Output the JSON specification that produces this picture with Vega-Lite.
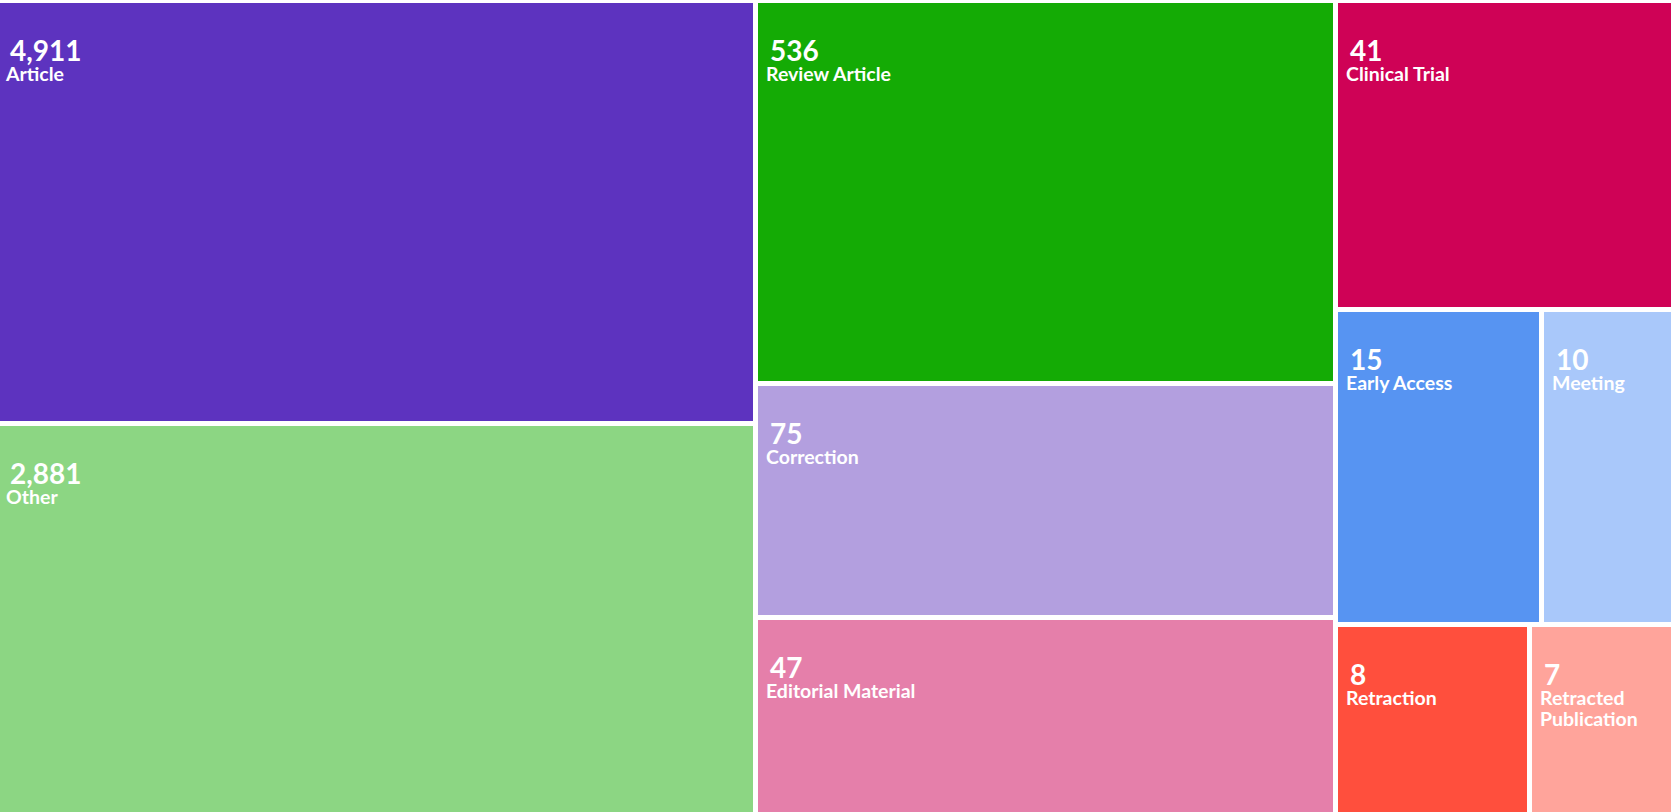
{
  "$schema": "https://vega.github.io/schema/vega-lite/v6.json",
  "padding": {"top": 3, "left": 0, "right": 0, "bottom": 0},
  "background": "white",
  "spacing": 5,
  "config": {
    "view": {"stroke": null},
    "concat": {"spacing": 5}
  },
  "data": {
    "values": [
      {"type": "Article", "count": 4911},
      {"type": "Other", "count": 2881},
      {"type": "Review Article", "count": 536},
      {"type": "Correction", "count": 75},
      {"type": "Editorial Material", "count": 47},
      {"type": "Clinical Trial", "count": 41},
      {"type": "Early Access", "count": 15},
      {"type": "Meeting", "count": 10},
      {"type": "Retraction", "count": 8},
      {"type": "Retracted Publication", "count": 7}
    ]
  },
  "hconcat": [
    {
      "vconcat": [
        {
          "width": 753, "height": 418,
          "transform": [{"filter": "datum.type === 'Article'"}],
          "layer": [
            {"mark": "rect", "encoding": {"color": {"field": "type", "legend": null, "scale": {"domain": ["Article", "Other", "Review Article", "Correction", "Editorial Material", "Clinical Trial", "Early Access", "Meeting", "Retraction", "Retracted Publication"], "range": ["#5d33bf", "#8cd683", "#14ab05", "#b39fdf", "#e57faa", "#cf0256", "#5794f2", "#a9c8fa", "#ff4f3d", "#ffa49b"]}}}},
            {"mark": {"type": "text", "align": "left", "baseline": "alphabetic", "x": 10, "y": 58, "font": "Lato", "fontSize": 28, "fontWeight": "bold", "fill": "white"}, "encoding": {"text": {"field": "count", "format": ","}}},
            {"mark": {"type": "text", "align": "left", "baseline": "alphabetic", "x": 6, "y": 78, "font": "Lato", "fontSize": 19.5, "fontWeight": "bold", "fill": "white"}, "encoding": {"text": {"field": "type"}}}
          ]
        },
        {
          "width": 753, "height": 386,
          "transform": [{"filter": "datum.type === 'Other'"}],
          "layer": [
            {"mark": "rect", "encoding": {"color": {"field": "type", "legend": null, "scale": {"domain": ["Article", "Other", "Review Article", "Correction", "Editorial Material", "Clinical Trial", "Early Access", "Meeting", "Retraction", "Retracted Publication"], "range": ["#5d33bf", "#8cd683", "#14ab05", "#b39fdf", "#e57faa", "#cf0256", "#5794f2", "#a9c8fa", "#ff4f3d", "#ffa49b"]}}}},
            {"mark": {"type": "text", "align": "left", "baseline": "alphabetic", "x": 10, "y": 58, "font": "Lato", "fontSize": 28, "fontWeight": "bold", "fill": "white"}, "encoding": {"text": {"field": "count", "format": ","}}},
            {"mark": {"type": "text", "align": "left", "baseline": "alphabetic", "x": 6, "y": 78, "font": "Lato", "fontSize": 19.5, "fontWeight": "bold", "fill": "white"}, "encoding": {"text": {"field": "type"}}}
          ]
        }
      ]
    },
    {
      "vconcat": [
        {
          "width": 575, "height": 378,
          "transform": [{"filter": "datum.type === 'Review Article'"}],
          "layer": [
            {"mark": "rect", "encoding": {"color": {"field": "type", "legend": null, "scale": {"domain": ["Article", "Other", "Review Article", "Correction", "Editorial Material", "Clinical Trial", "Early Access", "Meeting", "Retraction", "Retracted Publication"], "range": ["#5d33bf", "#8cd683", "#14ab05", "#b39fdf", "#e57faa", "#cf0256", "#5794f2", "#a9c8fa", "#ff4f3d", "#ffa49b"]}}}},
            {"mark": {"type": "text", "align": "left", "baseline": "alphabetic", "x": 12, "y": 58, "font": "Lato", "fontSize": 28, "fontWeight": "bold", "fill": "white"}, "encoding": {"text": {"field": "count", "format": ","}}},
            {"mark": {"type": "text", "align": "left", "baseline": "alphabetic", "x": 8, "y": 78, "font": "Lato", "fontSize": 19.5, "fontWeight": "bold", "fill": "white"}, "encoding": {"text": {"field": "type"}}}
          ]
        },
        {
          "width": 575, "height": 229,
          "transform": [{"filter": "datum.type === 'Correction'"}],
          "layer": [
            {"mark": "rect", "encoding": {"color": {"field": "type", "legend": null, "scale": {"domain": ["Article", "Other", "Review Article", "Correction", "Editorial Material", "Clinical Trial", "Early Access", "Meeting", "Retraction", "Retracted Publication"], "range": ["#5d33bf", "#8cd683", "#14ab05", "#b39fdf", "#e57faa", "#cf0256", "#5794f2", "#a9c8fa", "#ff4f3d", "#ffa49b"]}}}},
            {"mark": {"type": "text", "align": "left", "baseline": "alphabetic", "x": 12, "y": 58, "font": "Lato", "fontSize": 28, "fontWeight": "bold", "fill": "white"}, "encoding": {"text": {"field": "count", "format": ","}}},
            {"mark": {"type": "text", "align": "left", "baseline": "alphabetic", "x": 8, "y": 78, "font": "Lato", "fontSize": 19.5, "fontWeight": "bold", "fill": "white"}, "encoding": {"text": {"field": "type"}}}
          ]
        },
        {
          "width": 575, "height": 192,
          "transform": [{"filter": "datum.type === 'Editorial Material'"}],
          "layer": [
            {"mark": "rect", "encoding": {"color": {"field": "type", "legend": null, "scale": {"domain": ["Article", "Other", "Review Article", "Correction", "Editorial Material", "Clinical Trial", "Early Access", "Meeting", "Retraction", "Retracted Publication"], "range": ["#5d33bf", "#8cd683", "#14ab05", "#b39fdf", "#e57faa", "#cf0256", "#5794f2", "#a9c8fa", "#ff4f3d", "#ffa49b"]}}}},
            {"mark": {"type": "text", "align": "left", "baseline": "alphabetic", "x": 12, "y": 58, "font": "Lato", "fontSize": 28, "fontWeight": "bold", "fill": "white"}, "encoding": {"text": {"field": "count", "format": ","}}},
            {"mark": {"type": "text", "align": "left", "baseline": "alphabetic", "x": 8, "y": 78, "font": "Lato", "fontSize": 19.5, "fontWeight": "bold", "fill": "white"}, "encoding": {"text": {"field": "type"}}}
          ]
        }
      ]
    },
    {
      "vconcat": [
        {
          "width": 333, "height": 304,
          "transform": [{"filter": "datum.type === 'Clinical Trial'"}],
          "layer": [
            {"mark": "rect", "encoding": {"color": {"field": "type", "legend": null, "scale": {"domain": ["Article", "Other", "Review Article", "Correction", "Editorial Material", "Clinical Trial", "Early Access", "Meeting", "Retraction", "Retracted Publication"], "range": ["#5d33bf", "#8cd683", "#14ab05", "#b39fdf", "#e57faa", "#cf0256", "#5794f2", "#a9c8fa", "#ff4f3d", "#ffa49b"]}}}},
            {"mark": {"type": "text", "align": "left", "baseline": "alphabetic", "x": 12, "y": 58, "font": "Lato", "fontSize": 28, "fontWeight": "bold", "fill": "white"}, "encoding": {"text": {"field": "count", "format": ","}}},
            {"mark": {"type": "text", "align": "left", "baseline": "alphabetic", "x": 8, "y": 78, "font": "Lato", "fontSize": 19.5, "fontWeight": "bold", "fill": "white"}, "encoding": {"text": {"field": "type"}}}
          ]
        },
        {
          "hconcat": [
            {
              "width": 201, "height": 310,
              "transform": [{"filter": "datum.type === 'Early Access'"}],
              "layer": [
                {"mark": "rect", "encoding": {"color": {"field": "type", "legend": null, "scale": {"domain": ["Article", "Other", "Review Article", "Correction", "Editorial Material", "Clinical Trial", "Early Access", "Meeting", "Retraction", "Retracted Publication"], "range": ["#5d33bf", "#8cd683", "#14ab05", "#b39fdf", "#e57faa", "#cf0256", "#5794f2", "#a9c8fa", "#ff4f3d", "#ffa49b"]}}}},
                {"mark": {"type": "text", "align": "left", "baseline": "alphabetic", "x": 12, "y": 58, "font": "Lato", "fontSize": 28, "fontWeight": "bold", "fill": "white"}, "encoding": {"text": {"field": "count", "format": ","}}},
                {"mark": {"type": "text", "align": "left", "baseline": "alphabetic", "x": 8, "y": 78, "font": "Lato", "fontSize": 19.5, "fontWeight": "bold", "fill": "white"}, "encoding": {"text": {"field": "type"}}}
              ]
            },
            {
              "width": 127, "height": 310,
              "transform": [{"filter": "datum.type === 'Meeting'"}],
              "layer": [
                {"mark": "rect", "encoding": {"color": {"field": "type", "legend": null, "scale": {"domain": ["Article", "Other", "Review Article", "Correction", "Editorial Material", "Clinical Trial", "Early Access", "Meeting", "Retraction", "Retracted Publication"], "range": ["#5d33bf", "#8cd683", "#14ab05", "#b39fdf", "#e57faa", "#cf0256", "#5794f2", "#a9c8fa", "#ff4f3d", "#ffa49b"]}}}},
                {"mark": {"type": "text", "align": "left", "baseline": "alphabetic", "x": 12, "y": 58, "font": "Lato", "fontSize": 28, "fontWeight": "bold", "fill": "white"}, "encoding": {"text": {"field": "count", "format": ","}}},
                {"mark": {"type": "text", "align": "left", "baseline": "alphabetic", "x": 8, "y": 78, "font": "Lato", "fontSize": 19.5, "fontWeight": "bold", "fill": "white"}, "encoding": {"text": {"field": "type"}}}
              ]
            }
          ]
        },
        {
          "hconcat": [
            {
              "width": 189, "height": 185,
              "transform": [{"filter": "datum.type === 'Retraction'"}],
              "layer": [
                {"mark": "rect", "encoding": {"color": {"field": "type", "legend": null, "scale": {"domain": ["Article", "Other", "Review Article", "Correction", "Editorial Material", "Clinical Trial", "Early Access", "Meeting", "Retraction", "Retracted Publication"], "range": ["#5d33bf", "#8cd683", "#14ab05", "#b39fdf", "#e57faa", "#cf0256", "#5794f2", "#a9c8fa", "#ff4f3d", "#ffa49b"]}}}},
                {"mark": {"type": "text", "align": "left", "baseline": "alphabetic", "x": 12, "y": 58, "font": "Lato", "fontSize": 28, "fontWeight": "bold", "fill": "white"}, "encoding": {"text": {"field": "count", "format": ","}}},
                {"mark": {"type": "text", "align": "left", "baseline": "alphabetic", "x": 8, "y": 78, "font": "Lato", "fontSize": 19.5, "fontWeight": "bold", "fill": "white"}, "encoding": {"text": {"field": "type"}}}
              ]
            },
            {
              "width": 139, "height": 185,
              "transform": [{"filter": "datum.type === 'Retracted Publication'"}],
              "layer": [
                {"mark": "rect", "encoding": {"color": {"field": "type", "legend": null, "scale": {"domain": ["Article", "Other", "Review Article", "Correction", "Editorial Material", "Clinical Trial", "Early Access", "Meeting", "Retraction", "Retracted Publication"], "range": ["#5d33bf", "#8cd683", "#14ab05", "#b39fdf", "#e57faa", "#cf0256", "#5794f2", "#a9c8fa", "#ff4f3d", "#ffa49b"]}}}},
                {"mark": {"type": "text", "align": "left", "baseline": "alphabetic", "x": 12, "y": 58, "font": "Lato", "fontSize": 28, "fontWeight": "bold", "fill": "white"}, "encoding": {"text": {"field": "count", "format": ","}}},
                {"mark": {"type": "text", "align": "left", "baseline": "alphabetic", "x": 8, "y": 78, "lineBreak": " ", "lineHeight": 21, "font": "Lato", "fontSize": 19.5, "fontWeight": "bold", "fill": "white"}, "encoding": {"text": {"field": "type"}}}
              ]
            }
          ]
        }
      ]
    }
  ]
}
